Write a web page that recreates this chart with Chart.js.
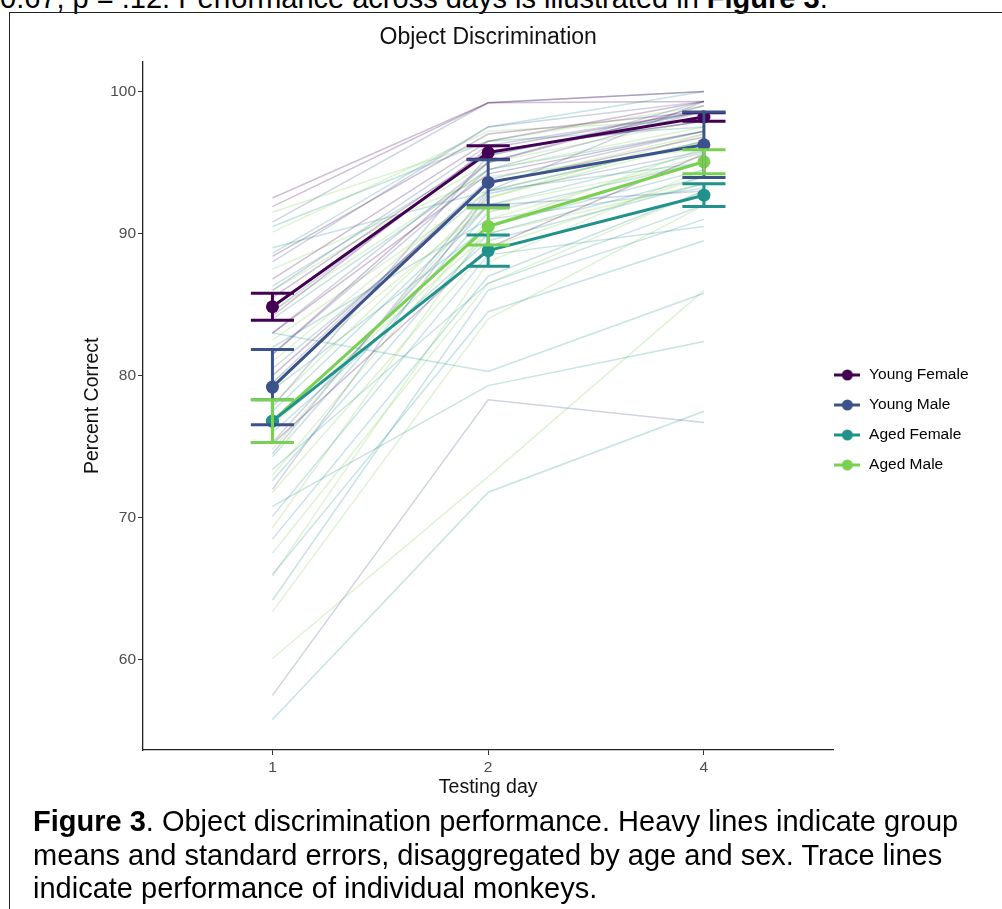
<!DOCTYPE html>
<html>
<head>
<meta charset="utf-8">
<script src="https://cdn.jsdelivr.net/npm/chart.js@4.4.1/dist/chart.umd.min.js"></script>
<style>
  html, body { margin: 0; padding: 0; background: #fff; }
  body { width: 1002px; height: 909px; position: relative; overflow: hidden; font-family: "Liberation Sans", Arial, sans-serif; }
  #lead { position: absolute; left: 0; top: -16px; font-size: 29px; line-height: 29px; white-space: nowrap; color: #000; }
  #frame { position: absolute; left: 9px; top: 12px; width: 1100px; height: 1000px; border: 1px solid #222; }
  #myChart { position: absolute; left: 0; top: 0; }
  #caption { position: absolute; left: 33px; top: 805px; font-size: 29px; line-height: 33.5px; color: #000; white-space: nowrap; }
</style>
</head>
<body>
<div id="lead">0.67, p = .12. Performance across days is illustrated in <b>Figure 3</b>.</div>
<div id="frame"></div>
<canvas id="myChart" width="1002" height="909"></canvas>
<div id="caption"><b>Figure 3</b>. Object discrimination performance. Heavy lines indicate group<br>means and standard errors, disaggregated by age and sex. Trace lines<br>indicate performance of individual monkeys.</div>

<script>
var days = ['1', '2', '4'];
var dayPos = [1, 2, 3];
var yTicks = [60, 70, 80, 90, 100];
var yMin = 53.66, yMax = 102.1;
var groups = ['Young Female', 'Young Male', 'Aged Female', 'Aged Male'];
var groupColors = ['#440154', '#3B528B', '#21918C', '#7AD151'];

// group means and standard errors (day 1, 2, 4)
var meanYoungFemale = [84.85, 95.7, 98.2];
var seYoungFemale = [0.95, 0.48, 0.3];
var meanYoungMale = [79.2, 93.6, 96.25];
var seYoungMale = [2.65, 1.6, 2.3];
var meanAgedFemale = [76.8, 88.8, 92.7];
var seAgedFemale = [1.5, 1.1, 0.8];
var meanAgedMale = [76.8, 90.5, 95.05];
var seAgedMale = [1.5, 1.3, 0.85];

// individual monkeys, [day 1, day 2, day 4]
var traceYoungFemale = [
    [92.5, 99.2, 99.3], [91.9, 99.2, 100], [88.4, 97.0, 98.6], [86.8, 96.5, 99.3],
    [85.5, 95.8, 97.9], [84.2, 96.0, 98.6], [83.0, 94.2, 97.2], [81.5, 95.0, 99.0],
    [80.0, 93.5, 96.8], [75.2, 89.0, 95.6]
];
var traceYoungMale = [
    [57.5, 78.3, 76.7], [90.8, 99.2, 100], [88.0, 97.5, 99.3], [86.0, 96.2, 98.6],
    [84.5, 95.8, 97.9], [83.0, 95.0, 99.3], [81.5, 94.5, 98.6], [79.5, 93.8, 97.2],
    [77.8, 95.5, 98.6], [74.5, 93.0, 99.3], [72.0, 92.8, 95.8], [75.3, 92.0, 93.0]
];
var traceAgedFemale = [
    [55.8, 71.8, 77.5], [70.8, 79.3, 82.4], [83.0, 80.3, 85.8], [64.2, 86.0, 91.0],
    [66.0, 84.5, 89.5], [68.5, 87.0, 93.0], [70.1, 88.5, 90.5], [72.6, 90.0, 94.0],
    [73.4, 86.5, 92.0], [74.3, 91.5, 95.0], [76.0, 89.5, 93.5], [77.5, 92.0, 95.7],
    [79.0, 90.5, 94.5], [80.5, 93.0, 96.5], [82.0, 91.0, 93.2], [84.0, 94.5, 97.2],
    [86.3, 95.5, 98.6], [88.6, 97.5, 100], [89.0, 93.0, 95.0], [90.5, 96.5, 97.5]
];
var traceAgedMale = [
    [60.1, 72.9, 86.0], [63.4, 84.0, 92.0], [65.9, 88.0, 94.5], [67.5, 86.5, 93.0],
    [69.3, 90.5, 96.0], [71.8, 89.0, 94.0], [73.0, 91.0, 95.5], [74.8, 92.5, 97.0],
    [76.5, 90.0, 93.5], [78.0, 92.5, 96.5], [79.5, 92.0, 95.0], [81.0, 93.5, 97.0],
    [82.5, 93.0, 96.5], [84.5, 94.5, 97.5], [86.0, 95.0, 98.0], [87.5, 94.0, 96.0],
    [90.1, 97.2, 98.0], [91.5, 96.5, 99.0]
];

var means = [meanYoungFemale, meanYoungMale, meanAgedFemale, meanAgedMale];
var ses = [seYoungFemale, seYoungMale, seAgedFemale, seAgedMale];
var traces = [traceYoungFemale, traceYoungMale, traceAgedFemale, traceAgedMale];

function fade(hex, a) {
    var n = parseInt(hex.slice(1), 16);
    return 'rgba(' + (n >> 16) + ',' + ((n >> 8) & 255) + ',' + (n & 255) + ',' + a + ')';
}

function toPoints(vals) {
    return vals.map(function(v, i) { return { x: dayPos[i], y: v }; });
}

// little line-with-dot icon for the legend
function legendIcon(color) {
    var c = document.createElement('canvas');
    c.width = 26; c.height = 14;
    var g = c.getContext('2d');
    g.strokeStyle = color; g.lineWidth = 3;
    g.beginPath(); g.moveTo(0, 7); g.lineTo(26, 7); g.stroke();
    g.fillStyle = color;
    g.beginPath(); g.arc(13, 7, 5.5, 0, Math.PI * 2); g.fill();
    return c;
}

var datasets = [];
groups.forEach(function(name, g) {
    datasets.push({
        label: name,
        data: toPoints(means[g]),
        borderColor: groupColors[g],
        backgroundColor: groupColors[g],
        borderWidth: 3,
        pointRadius: 6.5,
        pointHoverRadius: 6.5,
        pointBorderWidth: 0,
        order: 0
    });
});
groups.forEach(function(name, g) {
    traces[g].forEach(function(t) {
        datasets.push({
            label: name + ' (individual)',
            data: toPoints(t),
            borderColor: fade(groupColors[g], 0.25),
            borderWidth: 1.5,
            pointRadius: 0,
            order: 1
        });
    });
});

// standard error bars drawn through the chart scales
var errorBars = {
    id: 'errorBars',
    afterDatasetsDraw: function(chart) {
        var x = chart.scales.x, y = chart.scales.y, c = chart.ctx;
        c.save();
        c.lineWidth = 3;
        groups.forEach(function(name, g) {
            c.strokeStyle = groupColors[g];
            means[g].forEach(function(m, i) {
                var px = x.getPixelForValue(dayPos[i]);
                var half = x.getPixelForValue(dayPos[i] + 0.1) - px;
                var top = y.getPixelForValue(m + ses[g][i]);
                var bot = y.getPixelForValue(m - ses[g][i]);
                c.beginPath();
                c.moveTo(px, top); c.lineTo(px, bot);
                c.moveTo(px - half, top); c.lineTo(px + half, top);
                c.moveTo(px - half, bot); c.lineTo(px + half, bot);
                c.stroke();
            });
        });
        c.restore();
    }
};

// pull the legend in closer to the panel, like ggplot does
var legendNudge = {
    id: 'legendNudge',
    afterLayout: function(chart) {
        chart.legend.left -= 14.5;
        chart.legend.right -= 14.5;
    }
};

Chart.defaults.font.family = '"Liberation Sans", Arial, sans-serif';

var ctx = document.getElementById('myChart').getContext('2d');
var chart = new Chart(ctx, {
    type: 'line',
    data: { datasets: datasets },
    plugins: [errorBars, legendNudge],
    options: {
        responsive: false,
        animation: false,
        layout: { padding: { top: 0, left: 0, right: 9, bottom: 69 } },
        plugins: {
            title: {
                display: true,
                text: 'Object Discrimination',
                fullSize: false,
                color: '#111',
                font: { size: 23, weight: 'normal' },
                padding: { top: 24, bottom: 10 }
            },
            legend: {
                position: 'right',
                align: 'center',
                labels: {
                    usePointStyle: true,
                    pointStyleWidth: 28,
                    padding: 14.5,
                    color: '#1a1a1a',
                    font: { size: 15.5 },
                    generateLabels: function() {
                        return groups.map(function(name, g) {
                            return {
                                text: name,
                                pointStyle: legendIcon(groupColors[g]),
                                fillStyle: groupColors[g],
                                strokeStyle: groupColors[g],
                                lineWidth: 0,
                                datasetIndex: g,
                                hidden: false
                            };
                        });
                    }
                },
                onClick: null
            },
            tooltip: { enabled: false }
        },
        scales: {
            x: {
                type: 'linear',
                min: 0.4,
                max: 3.6,
                afterBuildTicks: function(s) {
                    s.ticks = dayPos.map(function(v) { return { value: v }; });
                },
                afterFit: function(s) { s.height = 90; },
                ticks: {
                    callback: function(v, i) { return days[i]; },
                    color: '#4d4d4d',
                    font: { size: 15.5 },
                    padding: 3,
                    maxRotation: 0,
                    autoSkip: false
                },
                grid: { drawOnChartArea: false, tickLength: 5, tickColor: '#333', color: '#333' },
                border: { color: '#222', width: 1.3 },
                title: {
                    display: true,
                    text: 'Testing day',
                    color: '#111',
                    font: { size: 19.5 },
                    padding: { top: 0, bottom: 41 }
                }
            },
            y: {
                type: 'linear',
                min: yMin,
                max: yMax,
                afterBuildTicks: function(s) {
                    s.ticks = yTicks.map(function(v) { return { value: v }; });
                },
                afterFit: function(s) { s.width = 143; },
                ticks: {
                    color: '#4d4d4d',
                    font: { size: 15.5 },
                    padding: 2
                },
                grid: { drawOnChartArea: false, tickLength: 5, tickColor: '#333', color: '#333' },
                border: { color: '#222', width: 1.3 },
                title: {
                    display: true,
                    text: 'Percent Correct',
                    color: '#111',
                    font: { size: 19.5 },
                    padding: { top: 81, bottom: 0 }
                }
            }
        }
    }
});
</script>
</body>
</html>
